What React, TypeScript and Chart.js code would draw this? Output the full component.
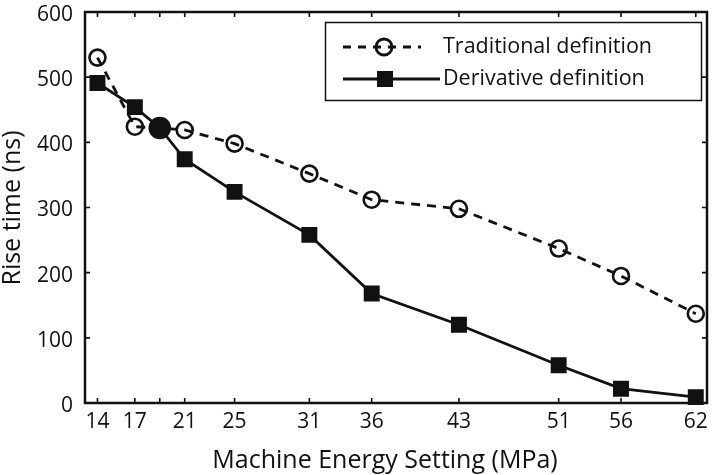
import { useEffect, useRef } from 'react';
import { Chart, registerables } from 'chart.js';

Chart.register(...registerables);

const energySettings = [14, 17, 19, 21, 25, 31, 36, 43, 51, 56, 62];
const traditionalRise = [530, 424, 422, 419, 398, 352, 312, 298, 237, 195, 137];
const derivativeRise = [491, 454, 422, 374, 324, 258, 168, 120, 58, 22, 9];
const xTickValues = [14, 17, 19, 21, 25, 31, 36, 43, 51, 56, 62];
const xTickLabels = ['14', '17', '', '21', '25', '31', '36', '43', '51', '56', '62'];
const yTickValues = [0, 100, 200, 300, 400, 500, 600];
const legendLabels = ['Traditional definition', 'Derivative definition'];
const xTitle = 'Machine Energy Setting (MPa)';
const yTitle = 'Rise time (ns)';

const FONT = '"Open Sans", sans-serif';

const decorPlugin = {
  id: 'decor',
  afterDraw(chart: any) {
    const { ctx, chartArea, scales } = chart;
    const { left, right, top, bottom } = chartArea;
    const xs = scales.x;
    const ys = scales.y;
    ctx.save();
    ctx.strokeStyle = '#111';
    ctx.fillStyle = '#111';
    ctx.lineWidth = 2.5;
    ctx.setLineDash([]);
    ctx.strokeRect(left, top, right - left, bottom - top);
    // inward ticks
    ctx.lineWidth = 1.6;
    for (const v of xTickValues) {
      const px = xs.getPixelForValue(v);
      ctx.beginPath();
      ctx.moveTo(px, bottom);
      ctx.lineTo(px, bottom - 5);
      ctx.moveTo(px, top);
      ctx.lineTo(px, top + 5);
      ctx.stroke();
    }
    ctx.font = `21px ${FONT}`;
    ctx.textAlign = 'right';
    ctx.textBaseline = 'middle';
    for (const v of yTickValues) {
      const py = ys.getPixelForValue(v);
      if (v !== 0 && v !== 600) {
        ctx.beginPath();
        ctx.moveTo(left, py);
        ctx.lineTo(left + 5, py);
        ctx.moveTo(right, py);
        ctx.lineTo(right - 5, py);
        ctx.stroke();
      }
      ctx.fillText(String(v), left - 12, py + 3);
    }
    // axis titles
    ctx.font = `25px ${FONT}`;
    ctx.textAlign = 'center';
    ctx.textBaseline = 'alphabetic';
    ctx.fillText(xTitle, 385, 468);
    ctx.save();
    ctx.translate(13, 208);
    ctx.rotate(-Math.PI / 2);
    ctx.textBaseline = 'middle';
    ctx.fillText(yTitle, 0, 0);
    ctx.restore();
    // legend
    ctx.lineWidth = 1.5;
    ctx.strokeRect(325.5, 22.5, 376, 78);
    const rows = [47, 79];
    ctx.lineWidth = 2.8;
    ctx.setLineDash([8, 7]);
    ctx.beginPath();
    ctx.moveTo(343, rows[0]);
    ctx.lineTo(421, rows[0]);
    ctx.stroke();
    ctx.setLineDash([]);
    ctx.beginPath();
    ctx.arc(384, rows[0], 8, 0, Math.PI * 2);
    ctx.stroke();
    ctx.beginPath();
    ctx.moveTo(343, rows[1]);
    ctx.lineTo(440, rows[1]);
    ctx.stroke();
    ctx.fillRect(377, rows[1] - 8, 16, 16);
    ctx.font = `21.5px ${FONT}`;
    ctx.textAlign = 'left';
    ctx.textBaseline = 'middle';
    ctx.fillText(legendLabels[0], 443, rows[0]);
    ctx.fillText(legendLabels[1], 443, rows[1]);
    ctx.restore();
  },
};

export default function App() {
  const canvasRef = useRef<HTMLCanvasElement | null>(null);

  useEffect(() => {
    const canvas = canvasRef.current;
    if (!canvas) return;
    const tradPoints = energySettings.map((x, i) => ({ x, y: traditionalRise[i] }));
    const derivPoints = energySettings.map((x, i) => ({ x, y: derivativeRise[i] }));
    const chart = new Chart(canvas, {
      type: 'line',
      data: {
        datasets: [
          {
            label: legendLabels[0],
            data: tradPoints,
            borderColor: '#111',
            borderWidth: 2.8,
            borderDash: [9, 7],
            pointStyle: 'circle',
            pointRadius: energySettings.map((_, i) => (i === 2 ? 10 : 8)),
            pointBorderWidth: 2.6,
            pointBorderColor: '#111',
            pointBackgroundColor: energySettings.map((_, i) => (i === 2 ? '#111' : 'rgba(0,0,0,0)')),
            tension: 0,
            clip: false as any,
          },
          {
            label: legendLabels[1],
            data: derivPoints,
            borderColor: '#111',
            borderWidth: 2.8,
            pointStyle: 'rect',
            pointRadius: energySettings.map((_, i) => (i === 2 ? 0 : 9.5)),
            pointBorderWidth: 2.5,
            pointBorderColor: '#111',
            pointBackgroundColor: '#111',
            tension: 0,
            clip: false as any,
          },
        ],
      },
      options: {
        responsive: false,
        animation: false,
        devicePixelRatio: 1,
        layout: { padding: { top: 5, right: 4, left: 0, bottom: 0 } },
        plugins: { legend: { display: false }, tooltip: { enabled: false } },
        scales: {
          x: {
            type: 'linear',
            min: 13,
            max: 62.9,
            grid: { display: false, drawTicks: false },
            border: { display: false },
            afterBuildTicks: (s: any) => {
              s.ticks = xTickValues.map((v) => ({ value: v }));
            },
            afterFit: (s: any) => {
              s.height = 72;
            },
            ticks: {
              autoSkip: false,
              maxRotation: 0,
              padding: 6,
              color: '#111',
              font: { family: FONT, size: 21 },
              callback: (v: any) => {
                const i = xTickValues.indexOf(Number(v));
                return i >= 0 ? xTickLabels[i] : '';
              },
            },
          },
          y: {
            type: 'linear',
            min: 0,
            max: 600,
            grid: { display: false, drawTicks: false },
            border: { display: false },
            ticks: { display: false },
            afterFit: (s: any) => {
              s.width = 85;
            },
          },
        },
      },
      plugins: [decorPlugin],
    });
    return () => chart.destroy();
  }, []);

  return (
    <div style={{ position: 'absolute', left: 0, top: 0, width: 719, height: 475, background: '#fff' }}>
      <canvas ref={canvasRef} width={719} height={475} style={{ display: 'block' }} />
    </div>
  );
}
